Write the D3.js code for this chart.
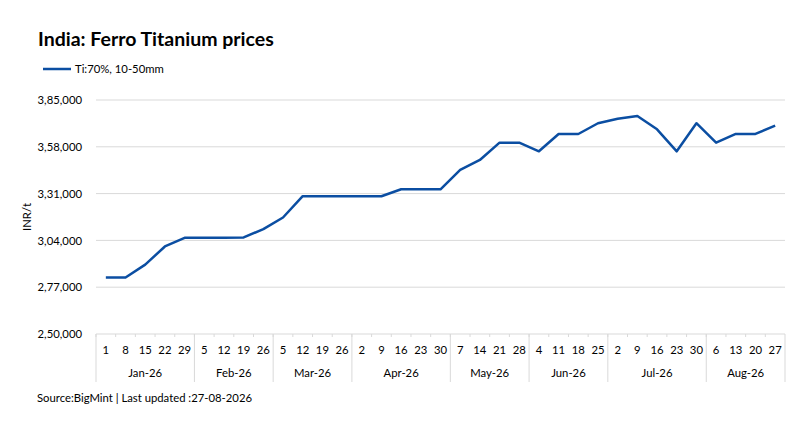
<!DOCTYPE html>
<html>
<head>
<meta charset="utf-8">
<script src="https://cdn.jsdelivr.net/npm/d3@7"></script>
<style>
  body { margin: 0; background: #fff; }
  svg text { font-family: Lato, 'Open Sans', sans-serif; fill: #000; }
</style>
</head>
<body>
<svg id="chart" width="800" height="421"></svg>
<script>
const monthLabels = ['Jan-26', 'Feb-26', 'Mar-26', 'Apr-26', 'May-26', 'Jun-26', 'Jul-26', 'Aug-26']
const dayLabels = [
    ['1', '8', '15', '22', '29'],
    ['5', '12', '19', '26'],
    ['5', '12', '19', '26'],
    ['2', '9', '16', '23', '30'],
    ['7', '14', '21', '28'],
    ['4', '11', '18', '25'],
    ['2', '9', '16', '23', '30'],
    ['6', '13', '20', '27']
]
const prices = [
    282600, 282600, 290000, 300500, 305500,
    305500, 305500, 305700, 310500,
    317200, 329500, 329500, 329500,
    329500, 329500, 333500, 333500, 333500,
    344700, 350400, 360400, 360400,
    355400, 365400, 365400, 371600,
    374200, 375800, 368100, 355400, 371600,
    360400, 365400, 365400, 370200
]
const yTicks = [250000, 277000, 304000, 331000, 358000, 385000]

// Indian digit grouping: 3,85,000
const inr = v => {
    const s = String(Math.round(v))
    if (s.length <= 3) return s
    const last = s.slice(-3)
    const rest = s.slice(0, -3).replace(/\B(?=(\d{2})+(?!\d))/g, ',')
    return `${rest},${last}`
}

const points = []
monthLabels.forEach((m, mi) => dayLabels[mi].forEach(day => points.push({ month: m, day })))
points.forEach((p, i) => { p.key = i; p.value = prices[i] })

const svg = d3.select('#chart')
const margin = { left: 96, right: 15, top: 100, bottom: 87 }
const W = 800, H = 421

const x = d3.scaleBand()
    .domain(points.map(d => d.key))
    .range([margin.left, W - margin.right])
    .padding(0)

const y = d3.scaleLinear()
    .domain([250000, 385000])
    .range([H - margin.bottom, margin.top])

const cx = d => x(d.key) + x.bandwidth() / 2

// title + legend
svg.append('text')
    .attr('x', 38).attr('y', 46)
    .style('font-size', '19.5px')
    .style('font-weight', 'bold')
    .text('India: Ferro Titanium prices')

svg.append('line')
    .attr('x1', 43).attr('x2', 71)
    .attr('y1', 69).attr('y2', 69)
    .attr('stroke', '#0b4ea2')
    .attr('stroke-width', 2.5)

svg.append('text')
    .attr('x', 75).attr('y', 73)
    .style('font-size', '11.3px')
    .text('Ti:70%, 10-50mm')

// gridlines
svg.append('g')
    .selectAll('line')
    .data(yTicks.slice(1))
    .join('line')
    .attr('x1', margin.left).attr('x2', W - margin.right)
    .attr('y1', d => y(d)).attr('y2', d => y(d))
    .attr('stroke', '#d9d9d9')

// y axis labels
const yAxis = svg.append('g')
    .attr('transform', `translate(${margin.left},0)`)
    .call(d3.axisLeft(y).tickValues(yTicks).tickFormat(inr).tickSize(0).tickPadding(14))
yAxis.select('.domain').remove()
yAxis.selectAll('text')
    .style('font-size', '11.3px')
    .style('font-family', 'Lato, sans-serif')
    .attr('fill', '#000')

svg.append('text')
    .attr('transform', `translate(31,${y(317500)}) rotate(-90)`)
    .attr('text-anchor', 'middle')
    .style('font-size', '11.3px')
    .text('INR/t')

// x axis: baseline, minor ticks, day labels
const base = y(250000)
const xg = svg.append('g')

xg.append('line')
    .attr('x1', margin.left).attr('x2', W - margin.right)
    .attr('y1', base).attr('y2', base)
    .attr('stroke', '#d9d9d9')

xg.selectAll('.minor')
    .data(points)
    .join('line')
    .attr('class', 'minor')
    .attr('x1', d => x(d.key)).attr('x2', d => x(d.key))
    .attr('y1', base).attr('y2', base + 3)
    .attr('stroke', '#d9d9d9')

xg.selectAll('.day')
    .data(points)
    .join('text')
    .attr('class', 'day')
    .attr('x', cx)
    .attr('y', base + 20)
    .attr('text-anchor', 'middle')
    .style('font-size', '11.3px')
    .text(d => d.day)

// month groups
const groups = d3.groups(points, d => d.month)
const bounds = groups.map(([, arr]) => x(arr[0].key))
bounds.push(W - margin.right)

xg.selectAll('.sep')
    .data(bounds)
    .join('line')
    .attr('class', 'sep')
    .attr('x1', d => d).attr('x2', d => d)
    .attr('y1', base).attr('y2', base + 48)
    .attr('stroke', '#d9d9d9')

xg.selectAll('.month')
    .data(groups)
    .join('text')
    .attr('class', 'month')
    .attr('x', ([, arr]) => (x(arr[0].key) + x(arr[arr.length - 1].key) + x.bandwidth()) / 2)
    .attr('y', base + 43)
    .attr('text-anchor', 'middle')
    .style('font-size', '11.3px')
    .text(([m]) => m)

// price line
svg.append('path')
    .datum(points)
    .attr('fill', 'none')
    .attr('stroke', '#0b4ea2')
    .attr('stroke-width', 2.5)
    .attr('stroke-linejoin', 'round')
    .attr('d', d3.line().x(cx).y(d => y(d.value)))

svg.append('text')
    .attr('x', 37).attr('y', 402)
    .style('font-size', '11.3px')
    .text('Source:BigMint | Last updated :27-08-2026')
</script>
</body>
</html>
